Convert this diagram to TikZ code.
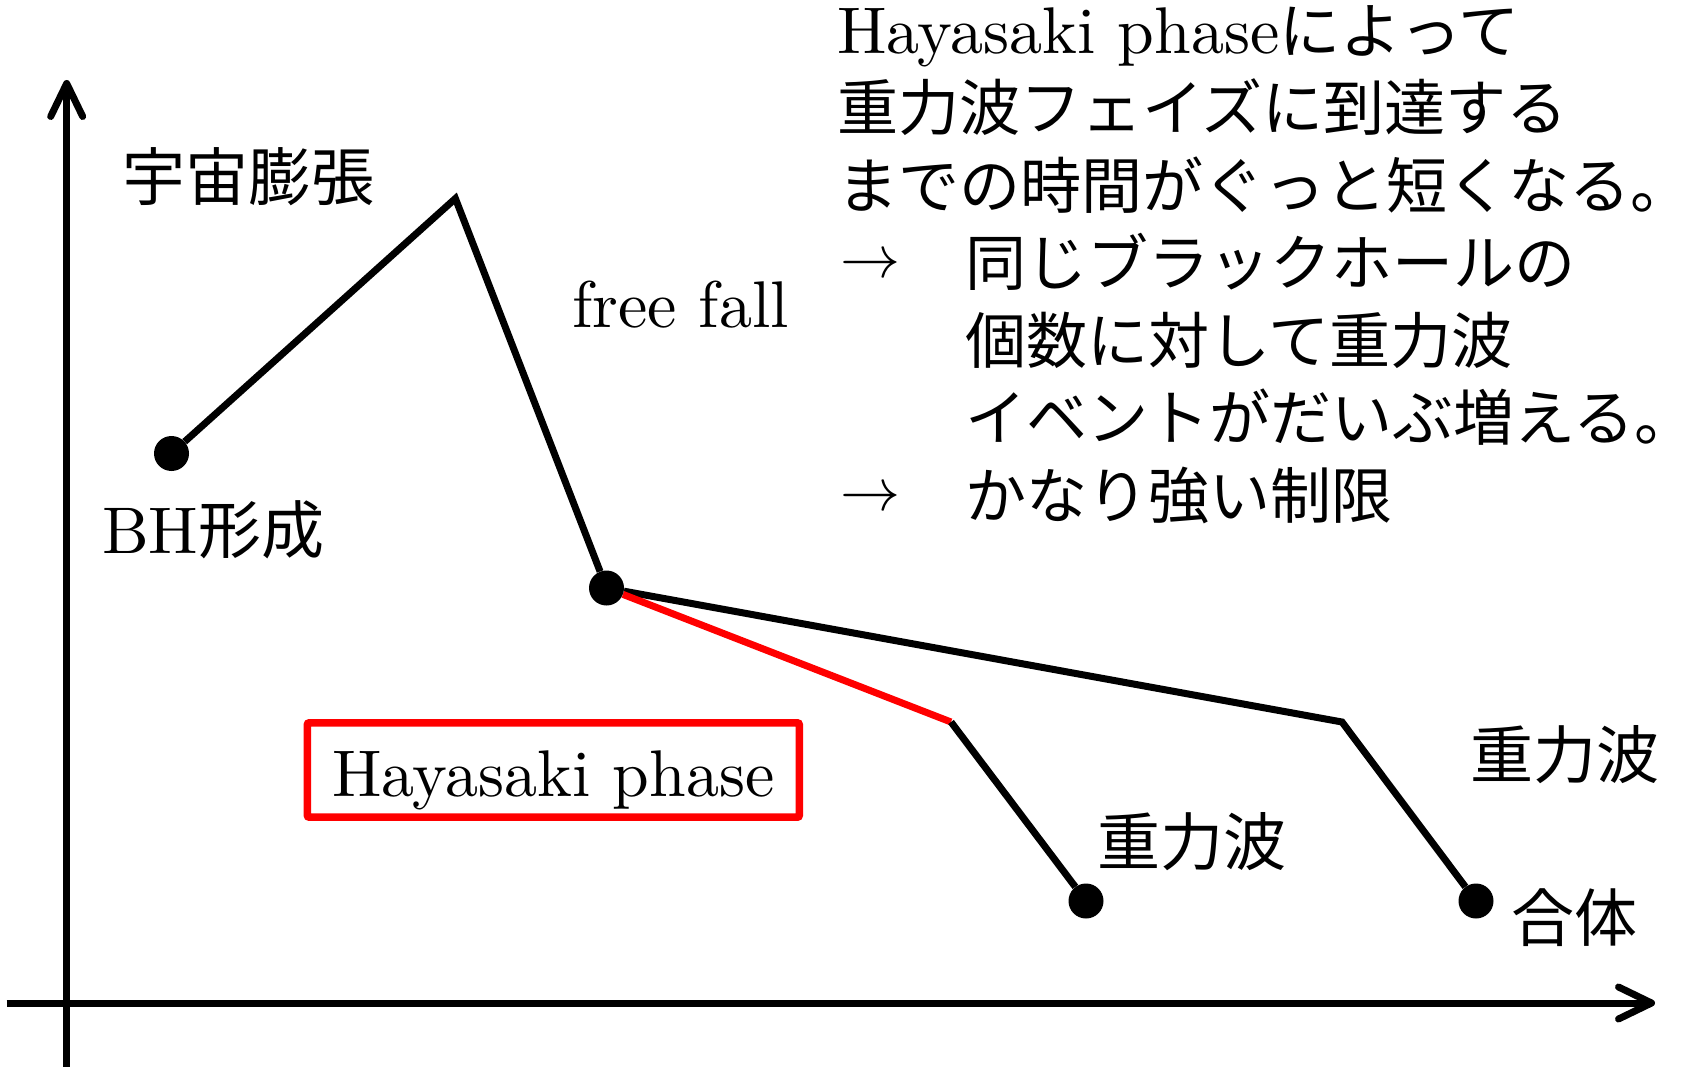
\documentclass[tikz,border=0pt]{standalone}
\usepackage{fontspec}
\usepackage{graphicx}
\setmainfont{lmroman10-regular.otf}
\newfontfamily\cjk{Noto Sans CJK JP}[Scale=0.955]
\newfontfamily\cjkb{Noto Sans CJK JP}[Scale=0.925]
\usetikzlibrary{arrows.meta}
\begin{document}
\begin{tikzpicture}[x=1pt,y=-1pt,
  lbl/.style={inner sep=0pt, anchor=base west, font=\fontsize{66pt}{66pt}\selectfont},
  arr/.style={inner sep=0pt, anchor=base west},
  ln/.style={line width=7pt},
  bdot/.style={circle, fill=black, minimum size=35pt, inner sep=0pt},
  axis/.style={line width=7pt, -{Straight Barb[length=33pt,width=32pt,round]}}]
\useasboundingbox (0,0) rectangle (1700,1067);
% axes
\coordinate (yb) at (66.7,1067);
\coordinate (yt) at (66.7,80);
\coordinate (xl) at (6.5,1003);
\coordinate (xr) at (1655,1003);
\draw[axis] (yb) -- (yt);
\draw[axis] (xl) -- (xr);
% points
\node[bdot] (bh) at (171.5,453.5) {};
\node[bdot] (m) at (606.5,588) {};
\node[bdot] (e1) at (1086,901) {};
\node[bdot] (e2) at (1476,901) {};
\coordinate (pk) at (455.4,198.5);
\coordinate (k1) at (951,722);
\coordinate (k2) at (1342,722);
\draw[ln] (bh) -- (pk) -- (m);
\draw[ln] (m) -- (k2) -- (e2);
\draw[ln, red] (m) -- (k1);
\draw[ln] (k1) -- (e1);
% box
\node[draw=red, line width=7.5pt, rounded corners=2pt, minimum width=492pt, minimum height=94.4pt,
  inner sep=0pt, text height=52pt, text depth=0pt, font=\fontsize{66pt}{66pt}\selectfont]
  (hp) at (553.3,770) {Hayasaki phase};
% labels
\node[lbl] (expand) at (122,201) {\cjk 宇宙膨張};
\node[lbl] (bhf) at (102,553) {BH{\cjk 形成}};
\node[lbl] (ff) at (572,327) {free fall};
\node[lbl] (gw1) at (1097,865) {\cjk 重力波};
\node[lbl] (gw2) at (1470,778.5) {\cjk 重力波};
\node[lbl] (merge) at (1511,941) {\cjk 合体};
% text block
\node[lbl] (t1) at (837,53.6) {Hayasaki phase{\cjkb によって}};
\node[lbl] (t2) at (837,131) {\cjkb 重力波フェイズに到達する};
\node[lbl] (t3) at (837,208.4) {\cjkb までの時間がぐっと短くなる。};
\node[arr] (a4) at (840,278) {\scalebox{6}{$\rightarrow$}};
\node[lbl] (t4) at (965,285.8) {\cjkb 同じブラックホールの};
\node[lbl] (t5) at (965,363.2) {\cjkb 個数に対して重力波};
\node[lbl] (t6) at (965,440.6) {\cjkb イベントがだいぶ増える。};
\node[arr] (a7) at (840,510) {\scalebox{6}{$\rightarrow$}};
\node[lbl] (t7) at (965,518) {\cjkb かなり強い制限};
\end{tikzpicture}
\end{document}
